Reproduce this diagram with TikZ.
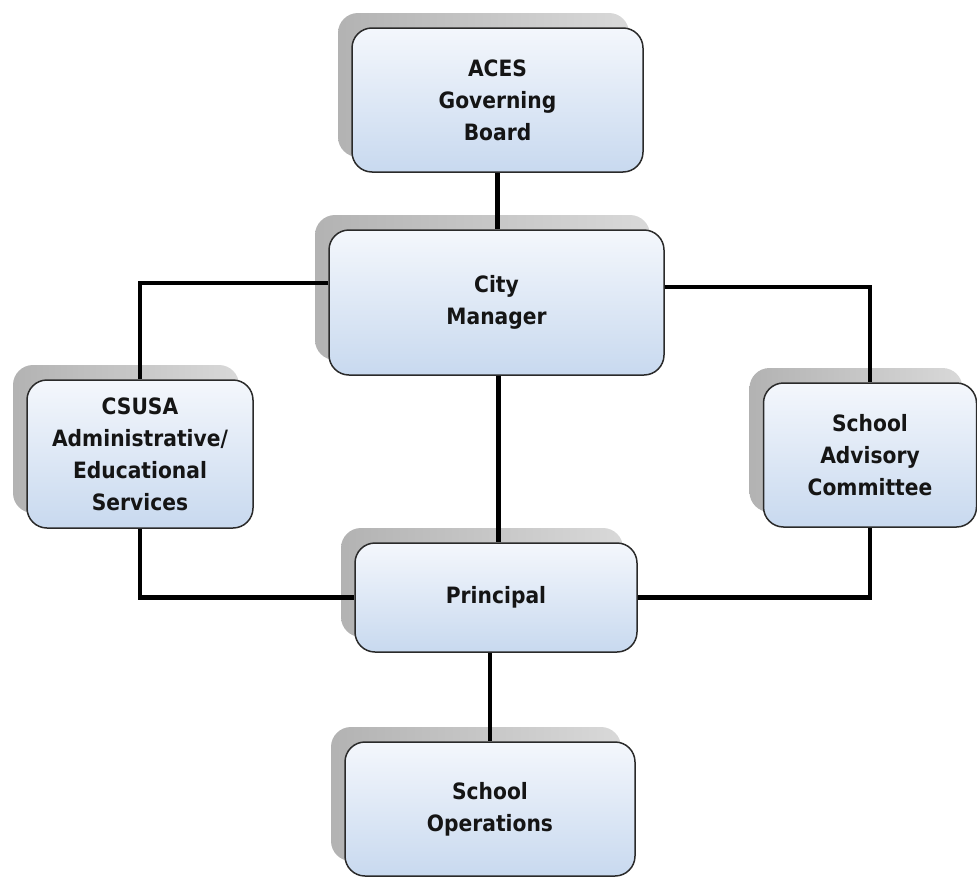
\documentclass[tikz,border=0pt]{standalone}
\usepackage{fontspec}
\setmainfont{DejaVu Sans Condensed}
\usetikzlibrary{shadows}
\definecolor{boxtop}{HTML}{F4F7FC}
\definecolor{boxbot}{HTML}{C8D9EF}
\definecolor{boxline}{HTML}{2A2A2A}
\definecolor{txt}{HTML}{151515}
\tikzset{
  orgbox/.style={draw=boxline, line width=1.5pt, rounded corners=20pt,
    top color=boxtop, bottom color=boxbot, inner sep=0pt, align=center,
    text=txt, font=\fontsize{22.5}{32}\selectfont\bfseries,
    general shadow={shadow xshift=-14pt, shadow yshift=15pt,
      left color=black!30, right color=black!15}},
  link/.style={line width=4.5pt, black}
}
\begin{document}
\begin{tikzpicture}[x=1pt,y=-1pt]
\useasboundingbox (0,0) rectangle (977,878);
\node[orgbox, minimum width=291pt, minimum height=144pt] (aces) at (497.5,100) {ACES\\Governing\\Board};
\node[orgbox, minimum width=335pt, minimum height=145pt] (city) at (496.5,302.5) {City\\Manager};
\node[orgbox, minimum width=226pt, minimum height=148pt] (csusa) at (140,454) {CSUSA\\Administrative/\\Educational\\Services};
\node[orgbox, minimum width=213pt, minimum height=144pt] (sac) at (870,455) {School\\Advisory\\Committee};
\node[orgbox, minimum width=282pt, minimum height=109pt] (prin) at (496,597.5) {Principal};
\node[orgbox, minimum width=290pt, minimum height=134pt] (ops) at (490,809) {School\\Operations};
\coordinate (cl) at (city.west |- 0,283);
\coordinate (cr) at (city.east |- 0,287);
\draw[link] (aces.south) -- (aces.south |- city.north);
\draw[link] (cl) -| (csusa.north);
\draw[link] (cr) -| (sac.north);
\draw[link] ([xshift=2pt]city.south) -- ([xshift=2pt]city.south |- prin.north);
\draw[link] (csusa.south) |- (prin.west);
\draw[link] (sac.south) |- (prin.east);
\draw[link] (prin.south -| ops.north) -- (ops.north);
\end{tikzpicture}
\end{document}
